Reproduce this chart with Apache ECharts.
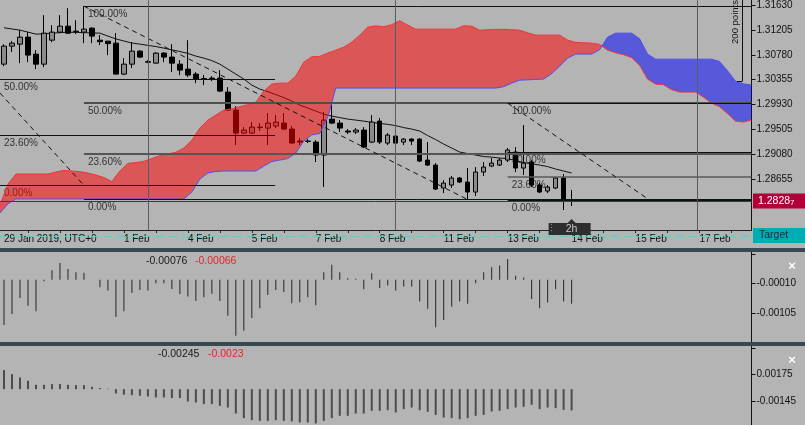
<!DOCTYPE html>
<html><head><meta charset="utf-8">
<script src="https://cdn.jsdelivr.net/npm/echarts@6/dist/echarts.min.js"></script>
<style>html,body{margin:0;padding:0;background:#b4b4b4;}#c{width:805px;height:425px;}</style>
</head><body><div id="c"></div>
<script>
// ---------------- data ----------------
const N_CATS = 94;
const xTickLabels = [[0,'29 Jan 2019, UTC+0'],[15,'1 Feb'],[23,'4 Feb'],[31,'5 Feb'],[39,'7 Feb'],[47,'8 Feb'],[55,'11 Feb'],[63,'13 Feb'],[71,'14 Feb'],[79,'15 Feb'],[87,'17 Feb']];
// [open, close, low, high]
const candles = [
[1.30621,1.30928,1.30587,1.30962],[1.30928,1.30979,1.30826,1.31013],[1.30962,1.31082,1.30638,1.31201],[1.31082,1.30775,1.30655,1.31167],
[1.30792,1.30621,1.30536,1.30860],[1.30621,1.31150,1.30570,1.31457],[1.31030,1.31167,1.30996,1.31286],[1.31167,1.31269,1.31150,1.31457],
[1.31269,1.31150,1.31133,1.31576],[1.31184,1.31176,1.31133,1.31371],[1.31167,1.31218,1.30979,1.31610],[1.31235,1.31099,1.30979,1.31252],
[1.31030,1.31004,1.30945,1.31116],[1.31013,1.30971,1.30775,1.31013],[1.30979,1.30451,1.30440,1.31150],[1.30451,1.30621,1.30434,1.30724],
[1.30621,1.30843,1.30553,1.30996],[1.30843,1.30741,1.30724,1.30860],[1.30663,1.30655,1.30638,1.30689],[1.30638,1.30809,1.30629,1.30826],
[1.30809,1.30741,1.30655,1.30826],[1.30741,1.30638,1.30485,1.30962],[1.30621,1.30519,1.30434,1.30689],[1.30536,1.30434,1.30400,1.31030],
[1.30451,1.30366,1.30297,1.30485],[1.30374,1.30366,1.30263,1.30434],[1.30383,1.30374,1.30331,1.30417],[1.30383,1.30161,1.30144,1.30519],
[1.30144,1.29837,1.29828,1.30229],[1.29837,1.29445,1.29240,1.29905],[1.29445,1.29496,1.29428,1.29547],[1.29445,1.29547,1.29428,1.29632],
[1.29547,1.29538,1.29479,1.29615],[1.29530,1.29615,1.29240,1.29786],[1.29564,1.29632,1.29530,1.29752],[1.29615,1.29513,1.29496,1.29786],
[1.29513,1.29274,1.29265,1.29564],[1.29308,1.29291,1.29240,1.29359],[1.29308,1.29303,1.29274,1.29342],[1.29291,1.29070,1.28950,1.29325],
[1.29070,1.29666,1.28524,1.29803],[1.29683,1.29615,1.29598,1.29956],[1.29615,1.29530,1.29462,1.29666],[1.29479,1.29462,1.29428,1.29513],
[1.29462,1.29496,1.29428,1.29530],[1.29496,1.29206,1.29189,1.29547],[1.29291,1.29632,1.29274,1.29752],[1.29649,1.29291,1.29257,1.29700],
[1.29274,1.29411,1.29240,1.29445],[1.29394,1.29274,1.29223,1.29411],[1.29291,1.29342,1.29240,1.29359],[1.29342,1.29308,1.29240,1.29359],
[1.29342,1.28967,1.28950,1.29359],[1.28984,1.28899,1.28882,1.29291],[1.28899,1.28490,1.28473,1.28933],[1.28507,1.28592,1.28422,1.28643],
[1.28558,1.28678,1.28507,1.28712],[1.28678,1.28609,1.28592,1.28695],[1.28609,1.28439,1.28311,1.28848],[1.28439,1.28780,1.28371,1.28865],
[1.28780,1.28865,1.28712,1.28950],[1.28882,1.28933,1.28865,1.29018],[1.28899,1.28984,1.28882,1.29018],[1.28984,1.29155,1.28950,1.29189],
[1.29121,1.28848,1.28780,1.29206],[1.28848,1.28933,1.28729,1.29581],[1.28950,1.28558,1.28524,1.28984],[1.28558,1.28439,1.28422,1.28592],
[1.28456,1.28524,1.28422,1.28558],[1.28507,1.28678,1.28490,1.28695],[1.28678,1.28319,1.28132,1.28746],[1.28300,1.28287,1.28200,1.28473]
];
const maLine = [1.31241,1.31221,1.31201,1.31167,1.31133,1.31139,1.31150,1.31158,1.31167,1.31162,
1.31158,1.31153,1.31150,1.31099,1.31051,1.31016,1.30982,1.30962,1.30941,1.30921,
1.30894,1.30865,1.30836,1.30804,1.30758,1.30724,1.30681,1.30621,1.30536,1.30451,
1.30366,1.30263,1.30195,1.30152,1.30101,1.30050,1.29990,1.29922,1.29871,1.29820,
1.29769,1.29734,1.29709,1.29683,1.29666,1.29649,1.29627,1.29610,1.29593,1.29572,
1.29538,1.29513,1.29479,1.29402,1.29334,1.29257,1.29189,1.29121,1.29095,1.29070,
1.29044,1.29035,1.29018,1.29010,1.28975,1.28941,1.28919,1.28899,1.28873,1.28831,
1.28797,1.28763];
// Ichimoku spans, sampled at bar boundaries (95 points)
const spanA = [1.28217,1.28575,1.28746,1.28746,1.28746,1.28746,1.28746,1.28780,1.28809,1.28797,
1.28787,1.28763,1.28729,1.28686,1.28618,1.28797,1.28928,1.28941,1.28964,1.29010,
1.29060,1.29087,1.29117,1.29189,1.29325,1.29530,1.29666,1.29752,1.29837,1.29860,
1.29896,1.29930,1.29973,1.30161,1.30280,1.30297,1.30297,1.30417,1.30655,1.30745,
1.30754,1.30809,1.30860,1.30911,1.30996,1.31116,1.31252,1.31274,1.31258,1.31294,
1.31362,1.31286,1.31218,1.31218,1.31218,1.31218,1.31218,1.31218,1.31276,1.31269,
1.31201,1.31207,1.31214,1.31214,1.31209,1.31201,1.31155,1.31116,1.31116,1.31116,
1.31116,1.31030,1.30993,1.30986,1.30979,1.30958,1.30860,1.30815,1.30783,1.30732,
1.30604,1.30366,1.30280,1.30270,1.30186,1.30144,1.30144,1.30144,1.30058,1.29956,
1.29896,1.29777,1.29649,1.29632,1.29666];
const spanB = [1.28081,1.28239,1.28320,1.28320,1.28320,1.28320,1.28320,1.28320,1.28320,1.28320,
1.28320,1.28320,1.28320,1.28320,1.28320,1.28320,1.28320,1.28320,1.28320,1.28320,
1.28320,1.28320,1.28320,1.28320,1.28439,1.28660,1.28763,1.28790,1.28797,1.28797,
1.28797,1.28797,1.28797,1.28882,1.28959,1.28984,1.29010,1.29104,1.29308,1.29415,
1.29436,1.29717,1.30212,1.30212,1.30212,1.30212,1.30212,1.30212,1.30212,1.30212,
1.30212,1.30212,1.30212,1.30212,1.30212,1.30212,1.30212,1.30212,1.30212,1.30212,
1.30212,1.30212,1.30212,1.30237,1.30297,1.30348,1.30353,1.30360,1.30366,1.30459,
1.30587,1.30724,1.30792,1.30792,1.30792,1.30866,1.31082,1.31150,1.31150,1.31150,
1.31054,1.30792,1.30706,1.30706,1.30706,1.30706,1.30706,1.30706,1.30706,1.30706,
1.30667,1.30507,1.30331,1.30285,1.30263];
const priceTicks = [1.31630,1.31205,1.30780,1.30355,1.29930,1.29505,1.29080,1.28655];
const lastPrice = 1.28287;
const fibLabels = ['100.00%','50.00%','23.60%','0.00%'];
const fibALevels = [null,1.30365,1.29402,1.28553];
const fibBLevels = [1.31610,1.29961,1.29091,1.28311];
const fibCLevels = [1.29956,1.29126,1.28699,1.28302];
const fibSpans = [[-0.5,33.9],[10,93.5],[63,93.5]];
const trendLines = [[[-0.5,1.30127],[10,1.28553]],[[10,1.31610],[58,1.28311]],[[63,1.29956],[80.75,1.28302]]];
const vLines = [18,49,86.75];
const osc1 = [-0.00143,-0.00108,-0.00058,-0.00082,-0.00100,-0.00005,0.00030,0.00053,0.00034,0.00024,
0.00022,0,-0.00024,-0.00034,-0.00118,-0.00100,-0.00042,-0.00032,-0.00034,-0.00011,
-0.00011,-0.00029,-0.00045,-0.00053,-0.00067,-0.00055,-0.00044,-0.00067,-0.00114,-0.00177,
-0.00161,-0.00121,-0.00090,-0.00048,-0.00032,-0.00039,-0.00074,-0.00071,-0.00055,-0.00081,
0.00024,0.00048,0.00024,0.00005,0.00003,-0.00030,0.00021,-0.00026,-0.00018,-0.00034,
-0.00021,-0.00021,-0.00069,-0.00092,-0.00150,-0.00127,-0.00085,-0.00069,-0.00076,-0.00011,
0.00024,0.00040,0.00045,0.00066,0.00013,0.00007,-0.00061,-0.00090,-0.00072,-0.00030,
-0.00069,-0.00076];
const osc2 = [0.00219,0.00173,0.00135,0.00096,0.00050,0.00050,0.00058,0.00058,0.00050,0.00046,
0.00046,0.00027,0.00012,0.00005,-0.00050,-0.00065,-0.00069,-0.00077,-0.00085,-0.00096,
-0.00096,-0.00104,-0.00104,-0.00142,-0.00154,-0.00173,-0.00173,-0.00193,-0.00212,-0.00281,
-0.00335,-0.00358,-0.00366,-0.00366,-0.00358,-0.00366,-0.00373,-0.00385,-0.00385,-0.00396,
-0.00366,-0.00335,-0.00308,-0.00308,-0.00281,-0.00281,-0.00250,-0.00250,-0.00243,-0.00269,
-0.00231,-0.00212,-0.00243,-0.00262,-0.00297,-0.00327,-0.00335,-0.00347,-0.00335,-0.00308,
-0.00297,-0.00258,-0.00250,-0.00231,-0.00212,-0.00204,-0.00181,-0.00231,-0.00212,-0.00219,
-0.00240,-0.00245];
const osc1Labels = ['-0.00076','-0.00066'];
const osc2Labels = ['-0.00245','-0.0023'];
const osc1Ticks = [0.00080,-0.00010,-0.00105];
const osc1TickLabels = [-0.00010,-0.00105];
const osc2Ticks = [0.00475,0.00175,-0.00145];
const osc2TickLabels = [0.00175,-0.00145];
const Y_MIN = 1.27791, Y_MAX = 1.31712;

// ---------------- chart ----------------
const FONT = '"Liberation Sans", Arial, sans-serif';
const cats = Array.from({length:N_CATS}, () => '');
xTickLabels.forEach(([i, t]) => { cats[i] = t; });

const CLOUD_UP = 'rgba(255,0,0,0.52)';
const CLOUD_DN = 'rgba(0,0,255,0.51)';

function renderCloud(params, api) {
  const children = [];
  const P = (x, p) => api.coord([x, p]);
  let top = [], bot = [], sign = null;
  const flush = () => {
    if (top.length > 1) children.push({type:'polygon', shape:{points: top.concat(bot.slice().reverse())}, style:{fill: sign > 0 ? CLOUD_UP : CLOUD_DN}});
  };
  for (let k = 0; k < spanA.length; k++) {
    const x = k - 0.5, a = spanA[k], b = spanB[k];
    const s = a >= b ? 1 : -1;
    if (sign !== null && s !== sign) {
      const pa = spanA[k-1], pb = spanB[k-1];
      const d0 = pa - pb, d1 = a - b;
      const t = d0 / (d0 - d1);
      const c = P(x - 1 + t, pa + t * (a - pa));
      top.push(c); bot.push(c);
      flush();
      top = [c]; bot = [c];
    }
    sign = s;
    top.push(P(x, a)); bot.push(P(x, b));
  }
  flush();
  children.push({type:'polyline', shape:{points: spanA.map((a,k)=>P(k-0.5,a))}, style:{stroke:'#f03535', lineWidth:1, fill:null}});
  children.push({type:'polyline', shape:{points: spanB.map((b,k)=>P(k-0.5,b))}, style:{stroke:'#5050f0', lineWidth:1, fill:null}});
  return {type:'group', children};
}

const hLine = (x1, x2, p, color, width) => [{coord:[x1,p], lineStyle:{color, width, type:'solid'}}, {coord:[x2,p]}];
const markData = [];
const fibAStyle = [null,['#111',1],['#111',1],['#111',1]];
const fibBStyle = [['#111',1],['#4f4f4f',2],['#555',2],['#111',1]];
const fibCStyle = [['#111',1],['#111',1],['#5a5a5a',1.5],['#111',1]];
[[fibALevels,fibAStyle,fibSpans[0]],[fibBLevels,fibBStyle,fibSpans[1]],[fibCLevels,fibCStyle,fibSpans[2]]].forEach(([lv,st,sp]) => {
  lv.forEach((p, j) => { if (p != null) markData.push(hLine(sp[0], sp[1], p, st[j][0], st[j][1])); });
});
trendLines.forEach(t => markData.push([{coord:t[0], lineStyle:{color:'#111', width:1, type:[5,4]}}, {coord:t[1]}]));
vLines.forEach(v => markData.push([{coord:[v, Y_MIN], lineStyle:{color:'#4f5e68', width:1, type:'solid'}}, {coord:[v, Y_MAX]}]));
markData.push(hLine(-0.5, 93.5, lastPrice, '#a8003a', 1));

const hiddenCat = (g) => ({type:'category', gridIndex:g, data:cats, boundaryGap:true, show:false, axisLine:{onZero:false}});
const GL = -0.5, GW = 752;

const option = {
  backgroundColor:'#b4b4b4',
  animation:false,
  grid:[
    {left:GL, top:0, width:GW, height:230},
    {left:GL, top:252, width:GW, height:90},
    {left:GL, top:346, width:GW, height:79}
  ],
  xAxis:[
    {type:'category', gridIndex:0, data:cats, boundaryGap:true,
     axisLine:{show:true, onZero:false, lineStyle:{color:'#222', width:1}},
     axisTick:{show:true, alignWithLabel:true, interval:(i)=> i%4===3, length:3, lineStyle:{color:'#222'}},
     axisLabel:{show:true, interval:(i,v)=> v!=='', align:'left', margin:4, color:'#111', fontSize:10, fontFamily:FONT},
     splitLine:{show:false}},
    {type:'value', gridIndex:0, min:-0.5, max:93.5, show:false, axisLine:{onZero:false}},
    hiddenCat(1),
    hiddenCat(2)
  ],
  yAxis:[
    {type:'value', gridIndex:0, position:'right', min:Y_MIN, max:Y_MAX,
     axisLine:{show:true, onZero:false, lineStyle:{color:'#111'}},
     axisTick:{show:true, customValues:priceTicks, length:4, lineStyle:{color:'#111'}},
     axisLabel:{show:true, customValues:priceTicks, formatter:v=>v.toFixed(5), margin:5, color:'#111', fontSize:10, fontFamily:FONT},
     splitLine:{show:false}},
    {type:'value', gridIndex:1, position:'right', min:-0.00197, max:0.00088,
     axisLine:{show:true, onZero:false, lineStyle:{color:'#111'}},
     axisTick:{show:true, customValues:osc1Ticks, length:4, lineStyle:{color:'#111'}},
     axisLabel:{show:true, customValues:osc1TickLabels, formatter:v=>v.toFixed(5), margin:5, color:'#111', fontSize:10, fontFamily:FONT},
     splitLine:{show:false}},
    {type:'value', gridIndex:2, position:'right', min:-0.00414, max:0.00498,
     axisLine:{show:true, onZero:false, lineStyle:{color:'#111'}},
     axisTick:{show:true, customValues:osc2Ticks, length:4, lineStyle:{color:'#111'}},
     axisLabel:{show:true, customValues:osc2TickLabels, formatter:v=>v.toFixed(5), margin:5, color:'#111', fontSize:10, fontFamily:FONT},
     splitLine:{show:false}}
  ],
  series:[
    {type:'candlestick', xAxisIndex:0, yAxisIndex:0, data:candles, barWidth:5, z:2,
     itemStyle:{color:'#8a8a8a', color0:'#000', borderColor:'#000', borderColor0:'#000', borderColorDoji:'#000', borderWidth:1}},
    {type:'line', xAxisIndex:0, yAxisIndex:0, data:maLine, symbol:'none', z:2,
     lineStyle:{color:'#111', width:1}},
    {type:'custom', xAxisIndex:1, yAxisIndex:0, data:[[0, 1.30]], renderItem:renderCloud, z:3, silent:true},
    {type:'scatter', xAxisIndex:1, yAxisIndex:0, data:[[0, 1.30]], symbolSize:0, z:5, silent:true,
     markLine:{silent:true, symbol:['none','none'], label:{show:false}, animation:false, data:markData}},
    {type:'bar', xAxisIndex:2, yAxisIndex:1, data:osc1, barWidth:1, itemStyle:{color:'#262626'}, silent:true},
    {type:'bar', xAxisIndex:3, yAxisIndex:2, data:osc2, barWidth:2, itemStyle:{color:'#4c4c4c'}, silent:true}
  ]
};

const chart = echarts.init(document.getElementById('c'), null, {renderer:'canvas', width:805, height:425});
chart.setOption(option);

const px = (x, p) => chart.convertToPixel({xAxisIndex:1, yAxisIndex:0}, [x, p]);
const g = [];
// fib labels
[[fibALevels,fibSpans[0]],[fibBLevels,fibSpans[1]],[fibCLevels,fibSpans[2]]].forEach(([lv, sp]) => {
  lv.forEach((p, j) => {
    if (p == null) return;
    const pt = px(sp[0], p);
    g.push({type:'text', z:1, x: Math.max(pt[0], 0) + 4, y: pt[1] + 8,
      style:{text: fibLabels[j], fill:'#333', font:'10px ' + FONT, textAlign:'left', textVerticalAlign:'middle'}});
  });
});
// separators
g.push({type:'rect', z:100, shape:{x:0, y:248, width:805, height:4}, style:{fill:'#394951'}});
g.push({type:'rect', z:100, shape:{x:0, y:342, width:805, height:4}, style:{fill:'#394951'}});
// oscillator labels
g.push({type:'text', z:100, x:146, y:261, style:{text:osc1Labels[0], fill:'#1a1a1a', font:'10.5px ' + FONT, textVerticalAlign:'middle'}});
g.push({type:'text', z:100, x:195, y:261, style:{text:osc1Labels[1], fill:'#e3262b', font:'10.5px ' + FONT, textVerticalAlign:'middle'}});
g.push({type:'text', z:100, x:158, y:354, style:{text:osc2Labels[0], fill:'#1a1a1a', font:'10.5px ' + FONT, textVerticalAlign:'middle'}});
g.push({type:'text', z:100, x:208, y:354, style:{text:osc2Labels[1], fill:'#e3262b', font:'10.5px ' + FONT, textVerticalAlign:'middle'}});
g.push({type:'text', z:100, x:792, y:266, style:{text:'×', fill:'#fff', font:'bold 13px ' + FONT, textAlign:'center', textVerticalAlign:'middle'}});
g.push({type:'text', z:100, x:792, y:360, style:{text:'×', fill:'#fff', font:'bold 13px ' + FONT, textAlign:'center', textVerticalAlign:'middle'}});
// last price box
const lp = px(93.5, lastPrice);
const lpStr = lastPrice.toFixed(5);
g.push({type:'rect', z:100, shape:{x:753, y:lp[1]-7.5, width:52, height:15}, style:{fill:'#b0003a'}});
g.push({type:'text', z:101, x:758, y:lp[1], style:{text:'{a|' + lpStr.slice(0,-1) + '}{b|' + lpStr.slice(-1) + '}', textVerticalAlign:'middle',
  rich:{a:{fill:'#fff', font:'10.5px ' + FONT}, b:{fill:'#fff', font:'8px ' + FONT, verticalAlign:'bottom', padding:[3,0,0,0]}}}});
// target line & box
g.push({type:'line', z:100, shape:{x1:0, y1:236.5, x2:753, y2:236.5}, style:{stroke:'#6cc4cf', lineWidth:1, lineDash:[8,5]}});
g.push({type:'rect', z:100, shape:{x:753, y:228, width:52, height:15}, style:{fill:'#00adb7'}});
g.push({type:'text', z:101, x:759, y:235.5, style:{text:'Target', fill:'#0e2d33', font:'10.5px ' + FONT, textVerticalAlign:'middle'}});
// 200 points bracket
g.push({type:'line', z:100, shape:{x1:742.5, y1:0, x2:742.5, y2:81}, style:{stroke:'#111', lineWidth:1}});
g.push({type:'line', z:100, shape:{x1:737, y1:81.5, x2:742.5, y2:81.5}, style:{stroke:'#111', lineWidth:1}});
g.push({type:'text', z:100, x:735.5, y:22, rotation:Math.PI/2, style:{text:'200 points', fill:'#111', font:'9.5px ' + FONT, textAlign:'center', textVerticalAlign:'middle'}});
// 2h handle
const h = px(71, Y_MIN);
g.push({type:'polygon', z:100, shape:{points:[[h[0]-4,223],[h[0],219],[h[0]+4,223]]}, style:{fill:'#2e2e2e'}});
g.push({type:'rect', z:100, shape:{x:h[0]-23, y:223, width:42, height:12}, style:{fill:'#2e2e2e'}});
g.push({type:'text', z:101, x:h[0]-20, y:229, style:{text:'⋮', fill:'#8a8a8a', font:'9px ' + FONT, textAlign:'center', textVerticalAlign:'middle'}});
g.push({type:'text', z:101, x:h[0], y:229, style:{text:'2h', fill:'#c8c8c8', font:'10.5px ' + FONT, textAlign:'center', textVerticalAlign:'middle'}});
chart.setOption({graphic: g});
</script>
</body></html>
